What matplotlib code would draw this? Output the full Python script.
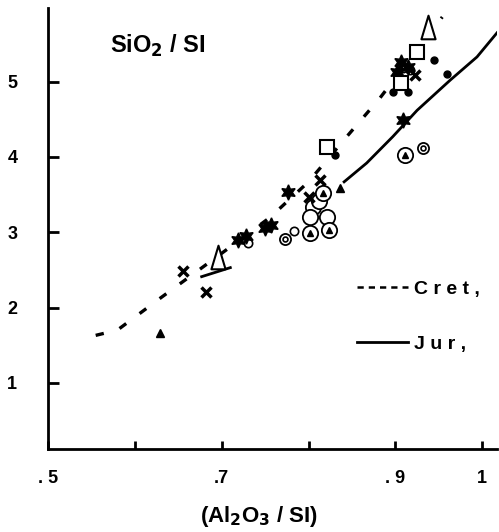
import numpy as np
import matplotlib
matplotlib.use("Agg")
import matplotlib.pyplot as plt
from matplotlib.lines import Line2D
from matplotlib.path import Path

plt.rcParams['font.family'] = ['Liberation Sans', 'DejaVu Sans']
plt.rcParams['font.weight'] = 'bold'

# trend curves
cret_x = [0.555, 0.58, 0.63, 0.70, 0.756, 0.80, 0.844, 0.882, 0.954]
cret_y = [1.63, 1.70, 2.13, 2.72, 3.20, 3.67, 4.27, 4.78, 5.86]
jur_x = [0.677, 0.710, np.nan, 0.841, 0.867, 0.897, 0.925, 0.963, 0.994, 1.017]
jur_y = [2.41, 2.53, np.nan, 3.67, 3.92, 4.27, 4.62, 5.02, 5.33, 5.65]

# samples, by symbol
filled_tri_x = [0.629, 0.836]
filled_tri_y = [1.66, 3.59]
open_tri_x = [0.696, 0.938]
open_tri_y = [2.67, 5.73]
cross_x = [0.656, 0.682, 0.800, 0.813, 0.923]
cross_y = [2.49, 2.21, 3.47, 3.69, 5.09]
star_x = [0.719, 0.728, 0.750, 0.757, 0.776, 0.906, 0.902, 0.915, 0.909]
star_y = [2.90, 2.95, 3.06, 3.10, 3.54, 5.26, 5.13, 5.20, 4.49]
small_circ_x = [0.730, 0.783, 0.909, 0.917]
small_circ_y = [2.86, 3.02, 5.18, 5.15]
bullseye_x = [0.773, 0.932]
bullseye_y = [2.91, 4.12]
circled_tri_x = [0.817, 0.802, 0.824, 0.911]
circled_tri_y = [3.52, 2.99, 3.03, 4.03]
big_circ_x = [0.805, 0.802, 0.821, 0.812]
big_circ_y = [3.34, 3.20, 3.20, 3.42]
square_x = [0.821, 0.925, 0.906]
square_y = [4.13, 5.40, 4.98]
dot_x = [0.831, 0.897, 0.914, 0.944, 0.959]
dot_y = [4.03, 4.86, 4.86, 5.29, 5.10]

xticks = [0.5, 0.6, 0.7, 0.8, 0.9, 1.0]
xticklabels = ['. 5', '', '.7', '', '. 9', '1']
yticks = [1, 2, 3, 4, 5]

# tall open triangle
tall_tri = Path([(0, 1), (-0.6, -1), (0.6, -1), (0, 1)],
                [Path.MOVETO, Path.LINETO, Path.LINETO, Path.CLOSEPOLY])

fig = plt.figure(figsize=(4.99, 5.32), dpi=100)
ax = fig.add_axes([0.096, 0.156, 0.90, 0.829])

ax.plot(cret_x, cret_y, color='black', lw=2.4, dashes=(2.5, 5))
ax.plot(jur_x, jur_y, color='black', lw=2)

ax.plot(big_circ_x, big_circ_y, 'o', ms=11, mfc='white', mec='black', mew=1.3)
ax.plot(circled_tri_x, circled_tri_y, 'o', ms=11, mfc='white', mec='black', mew=1.3)
ax.plot(circled_tri_x, circled_tri_y, '^', ms=5, color='black')
ax.plot(bullseye_x, bullseye_y, 'o', ms=8, mfc='white', mec='black', mew=1.3)
ax.plot(bullseye_x, bullseye_y, 'o', ms=3.5, mfc='white', mec='black', mew=1.2)
ax.plot(small_circ_x, small_circ_y, 'o', ms=6, mfc='white', mec='black', mew=1.2)
ax.plot(star_x, star_y, marker=(6, 1, 0), ls='none', ms=11, color='black')
ax.plot(cross_x, cross_y, 'x', ms=7, mec='black', mew=2.5)
ax.plot(filled_tri_x, filled_tri_y, '^', ms=6, color='black')
ax.plot(dot_x, dot_y, 'o', ms=5, color='black')
ax.plot(square_x, square_y, 's', ms=10, mfc='white', mec='black', mew=1.5)
ax.plot(open_tri_x, open_tri_y, marker=tall_tri, ls='none', ms=17,
        mfc='white', mec='black', mew=1.5)

ax.set_xlim(0.5, 1.017)
ax.set_ylim(0.12, 5.98)
for side in ['top', 'right']:
    ax.spines[side].set_visible(False)
for side in ['left', 'bottom']:
    ax.spines[side].set_linewidth(2)

ax.set_xticks(xticks)
ax.set_xticklabels(xticklabels)
ax.set_yticks(yticks)
ax.tick_params(axis='x', direction='in', length=6, width=2, pad=15, labelsize=13)
ax.tick_params(axis='y', direction='in', length=8, width=2, pad=22, labelsize=13)

ax.text(0.245, 0.915, 'SiO$_\\mathbf{2}$ / SI', transform=ax.transAxes,
        ha='center', va='center', fontsize=17, fontweight='bold')
ax.set_xlabel('(Al$_\\mathbf{2}$O$_\\mathbf{3}$ / SI)', fontsize=16, fontweight='bold')
ax.xaxis.set_label_coords(0.47, -0.125)

handles = [Line2D([], [], color='black', lw=1.8, dashes=(2.5, 2)),
           Line2D([], [], color='black', lw=2)]
ax.legend(handles, ['C r e t ,', 'J u r ,'], loc='center right',
          bbox_to_anchor=(1.0, 0.30), frameon=False, fontsize=14,
          handlelength=2.6, handletextpad=0.3, labelspacing=1.9)

fig.savefig('out.png', dpi=100)
